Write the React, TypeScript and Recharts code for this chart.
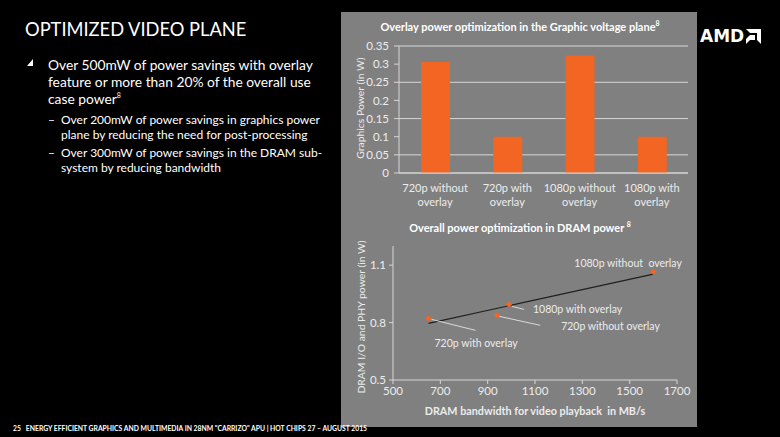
import React from 'react';
import { BarChart, Bar, XAxis, YAxis, CartesianGrid, ScatterChart, Scatter } from 'recharts';

// top chart: graphics voltage plane
const barCategories = ['720p without overlay', '720p with overlay', '1080p without overlay', '1080p with overlay'];
const graphicsPower = [0.306, 0.1, 0.324, 0.1];
const barTicks = [0, 0.05, 0.1, 0.15, 0.2, 0.25, 0.3, 0.35];

// bottom chart: DRAM power vs bandwidth
const dramNames = ['720p with overlay', '720p without overlay', '1080p with overlay', '1080p without  overlay'];
const dramBandwidth = [650, 940, 990, 1600];
const dramPower = [0.822, 0.838, 0.895, 1.065];
const trendBandwidth = [650, 1600];
const trendPower = [0.796, 1.053];
const dramXTicks = [500, 700, 900, 1100, 1300, 1500, 1700];
const dramYTicks = [0.5, 0.8, 1.1];

const FONT = 'Lato, "Open Sans", sans-serif';
const ORANGE = '#f26522';
const LIGHT = '#ececec';
const GRID = '#d6d6d6';

// where each point label sits, relative to the marker (px)
const labelPlacement: Record<string, { tx: number; ty: number; anchor: string; leader?: number[] }> = {
  '720p with overlay': { tx: 6, ty: 29, anchor: 'start', leader: [3, 1, 47, 12] },
  '720p without overlay': { tx: 64, ty: 15, anchor: 'start', leader: [2, 1, 43, 10] },
  '1080p with overlay': { tx: 24, ty: 9, anchor: 'start', leader: [3, 2, 15, 5] },
  '1080p without  overlay': { tx: -79, ty: -5, anchor: 'start' },
};

const barData = barCategories.map((name, i) => ({ name, value: graphicsPower[i] }));
const dramData = dramNames.map((name, i) => ({ name, x: dramBandwidth[i], y: dramPower[i] }));
const trendData = trendBandwidth.map((x, i) => ({ x, y: trendPower[i] }));

const CategoryTick = ({ x, y, payload }: any) => {
  const s = String(payload.value);
  const i = s.lastIndexOf(' ');
  return (
    <text x={x} y={y} textAnchor="middle" fill={LIGHT} fontSize={11} fontFamily={FONT}>
      <tspan x={x} dy={11}>{s.slice(0, i)}</tspan>
      <tspan x={x} dy={14}>{s.slice(i + 1)}</tspan>
    </text>
  );
};

const PointMarker = (props: any) => {
  const { cx, cy, payload } = props;
  const p = labelPlacement[payload.name];
  const r = 3.2;
  return (
    <g>
      {p && p.leader && (
        <line
          x1={cx + p.leader[0]} y1={cy + p.leader[1]}
          x2={cx + p.leader[2]} y2={cy + p.leader[3]}
          stroke="#d9d9d9" strokeWidth={1}
        />
      )}
      <path d={`M${cx},${cy - r} L${cx + r},${cy} L${cx},${cy + r} L${cx - r},${cy} Z`} fill={ORANGE} />
      {p && (
        <text x={cx + p.tx} y={cy + p.ty} textAnchor={p.anchor as any} fill={LIGHT} fontSize={10.5} fontFamily={FONT} style={{ whiteSpace: 'pre' }}>
          {payload.name}
        </text>
      )}
    </g>
  );
};

const abs = (left: number, top: number): React.CSSProperties => ({ position: 'absolute', left, top });

const rotated = (cx: number, cy: number): React.CSSProperties => ({
  position: 'absolute', left: cx, top: cy, width: 'max-content', transform: 'translate(-50%, -50%) rotate(-90deg)',
  whiteSpace: 'nowrap', color: LIGHT, fontSize: 10.4, fontFamily: FONT,
});

const centered = (cx: number, cy: number): React.CSSProperties => ({
  position: 'absolute', left: cx, top: cy, width: 'max-content', transform: 'translate(-50%, -50%)',
  whiteSpace: 'pre', color: '#fff', fontSize: 11, fontWeight: 700, fontFamily: FONT,
});

const sup: React.CSSProperties = { fontSize: 7, lineHeight: 0, verticalAlign: 'super' };

export default function App() {
  return (
    <div style={{ position: 'relative', width: 780, height: 437, background: '#000', overflow: 'hidden', fontFamily: FONT }}>
      <style>{'body{margin:0;background:#000}'}</style>

      {/* slide text */}
      <div style={{ ...abs(25, 18), color: '#fff', fontSize: 18.3 }}>OPTIMIZED VIDEO PLANE</div>
      <svg style={abs(0, 0)} width={40} height={80}>
        <path d="M27,66 L33,59 L33,66 Z" fill="#fff" />
      </svg>
      <div style={{ ...abs(48, 56), color: '#fff', fontSize: 13.8, lineHeight: '17px', width: 280 }}>
        Over 500mW of power savings with overlay<br />
        feature or more than 20% of the overall use<br />
        case power<span style={sup}>8</span>
      </div>
      <div style={{ ...abs(61, 112), color: '#fff', fontSize: 12, lineHeight: '15px', width: 290 }}>
        <div style={{ position: 'relative' }}>
          <span style={{ position: 'absolute', left: -13 }}>–</span>
          Over 200mW of power savings in graphics power<br />plane by reducing the need for post-processing
        </div>
        <div style={{ position: 'relative', marginTop: 3 }}>
          <span style={{ position: 'absolute', left: -13 }}>–</span>
          Over 300mW of power savings in the DRAM sub-<br />system by reducing bandwidth
        </div>
      </div>

      {/* AMD logo */}
      <svg style={abs(698, 26)} width={70} height={20}>
        <text x={2} y={16} fill="#fff" fontSize={17} fontWeight={900} fontFamily='"DejaVu Sans", sans-serif'>AMD</text>
        <path d="M48,3 L63,3 L63,18 L59,14 L59,7 L52,7 Z M52,9 L57,9 L57,14 L52,14 L48,18 L48,13 Z" fill="#fff" />
      </svg>

      {/* chart panel */}
      <div style={{ ...abs(341, 12), width: 356, height: 415, background: '#808080' }}>
        <div style={centered(179, 14)}>Overlay power optimization in the Graphic voltage plane<span style={sup}>8</span></div>
        <div style={rotated(19, 96)}>Graphics Power (in W)</div>
        <div style={abs(0, 0)}>
          <BarChart width={356} height={215} data={barData} margin={{ top: 34, right: 9, bottom: 14, left: 0 }}>
            <CartesianGrid vertical={false} stroke={GRID} />
            <XAxis dataKey="name" tick={<CategoryTick />} tickLine={false} axisLine={{ stroke: GRID }} interval={0} height={40} />
            <YAxis
              domain={[0, 0.35]} ticks={barTicks} width={58} tickSize={5} tickMargin={5}
              axisLine={{ stroke: GRID }} tickLine={{ stroke: GRID }}
              tick={{ fill: LIGHT, fontSize: 11.5, fontFamily: FONT }}
            />
            <Bar dataKey="value" fill={ORANGE} barSize={29} isAnimationActive={false} />
          </BarChart>
        </div>

        <div style={centered(179, 215)}>Overall power optimization in DRAM power <span style={sup}>8</span></div>
        <div style={rotated(20, 305)}>DRAM I/O and PHY power (in W)</div>
        <div style={{ ...centered(194, 398), color: LIGHT, fontSize: 10.8 }}>DRAM bandwidth for video playback  in MB/s</div>
        <div style={abs(0, 218)}>
          <ScatterChart width={356} height={197} margin={{ top: 16, right: 20, bottom: 17, left: 0 }}>
            <XAxis
              type="number" dataKey="x" domain={[500, 1700]} ticks={dramXTicks} height={30}
              tickSize={4} tickMargin={3}
              axisLine={{ stroke: GRID }} tickLine={{ stroke: GRID }}
              tick={{ fill: LIGHT, fontSize: 11.5, fontFamily: FONT }}
            />
            <YAxis
              type="number" dataKey="y" domain={[0.5, 1.2]} ticks={dramYTicks} width={52}
              tickSize={4} tickMargin={3}
              axisLine={{ stroke: GRID }} tickLine={{ stroke: GRID }}
              tick={{ fill: LIGHT, fontSize: 11.5, fontFamily: FONT }}
            />
            <Scatter data={trendData} line={{ stroke: '#1e1e1e', strokeWidth: 1.2 }} shape={() => <g />} isAnimationActive={false} />
            <Scatter data={dramData} shape={(p: any) => <PointMarker {...p} />} isAnimationActive={false} />
          </ScatterChart>
        </div>
      </div>

      <div style={{ ...abs(13, 423), color: '#fff', fontSize: 6.8, lineHeight: '10px', fontWeight: 700, whiteSpace: 'pre', zIndex: 2 }}>
        {'25   ENERGY EFFICIENT GRAPHICS AND MULTIMEDIA IN 28NM "CARRIZO" APU | HOT CHIPS 27 – AUGUST 2015'}
      </div>
    </div>
  );
}
